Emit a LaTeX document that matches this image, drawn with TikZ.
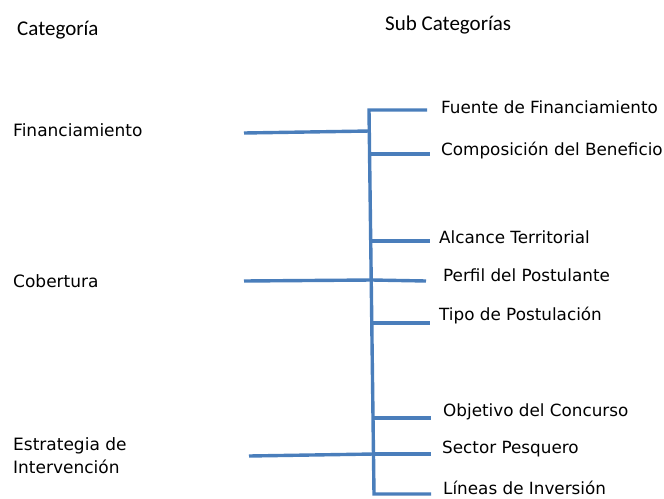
\documentclass[tikz,border=0pt]{standalone}
\usepackage{fontspec}
\setmainfont{DejaVu Sans}
\newfontfamily\headfont{Carlito}
\usetikzlibrary{positioning}
\definecolor{linkblue}{RGB}{74,126,187}
\tikzset{
  head/.style={anchor=west,inner sep=0pt,font=\headfont\fontsize{21}{24}\selectfont},
  cat/.style={anchor=west,inner sep=0pt,font=\fontsize{17}{23}\selectfont,align=left},
  sub/.style={anchor=west,inner sep=0pt,font=\fontsize{16.8}{20}\selectfont},
  link/.style={draw=linkblue,line width=3.4pt}
}
\begin{document}
\begin{tikzpicture}[x=1pt,y=-1pt]
\useasboundingbox (0,0) rectangle (664,498);

\node [head] (head1) at (17,30) {Categoría};
\node [head] (head2) at (385,25) {Sub Categorías};

\node [cat] (cat1) at (13,130) {Financiamiento};
\node [cat] (cat2) at (13,281) {Cobertura};
\node [cat] (cat3) at (13,456) {Estrategia de\\Intervención};

\node [sub] (sub1) at (441,107) {Fuente de Financiamiento};
\node [sub] (sub2) at (441,151) {Composición del Beneficio};
\node [sub] (sub3) at (439,237) {Alcance Territorial};
\node [sub] (sub4) at (443,275) {Perfil del Postulante};
\node [sub] (sub5) at (439,316) {Tipo de Postulación};
\node [sub] (sub6) at (443,412) {Objetivo del Concurso};
\node [sub] (sub7) at (442,449) {Sector Pesquero};
\node [sub] (sub8) at (443,488) {Líneas de Inversión};

% trunk
\coordinate (top) at (369,110);
\coordinate (bot) at (374,494);
\coordinate (j1) at (370,131);
\coordinate (j2) at (371,154);
\coordinate (j3) at (372,241);
\coordinate (j4) at (372,280);
\coordinate (j5) at (373,323);
\coordinate (j6) at (374,418);
\coordinate (j7) at (374,454);

% branch ends
\coordinate (e1) at (427,110);
\coordinate (e2) at (430,154);
\coordinate (e3) at (430,241);
\coordinate (e4) at (426,281);
\coordinate (e5) at (430,323);
\coordinate (e6) at (431,418);
\coordinate (e7) at (431,454);
\coordinate (e8) at (431,494);

% category stubs
\coordinate (c1) at (244,133);
\coordinate (c2) at (244,281);
\coordinate (c3) at (249,456);

\draw[link,line join=miter] (e1)--(top)--(bot)--(e8);
\foreach \i in {2,3,5,6,7}
  \draw[link] (j\i)--(e\i);
\draw[link] (j4)--(e4);
\draw[link] (c1)--(j1);
\draw[link] (c2)--(j4);
\draw[link] (c3)--(j7);

\end{tikzpicture}
\end{document}
